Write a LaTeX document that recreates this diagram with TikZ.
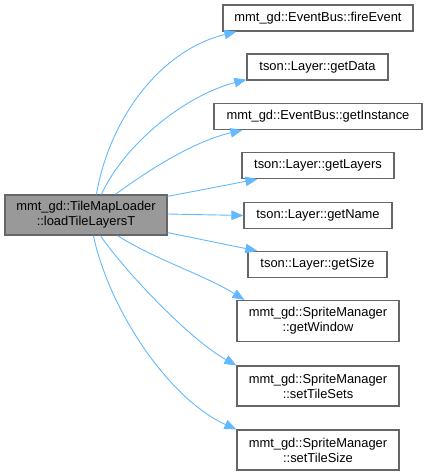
\documentclass[tikz,border=0pt]{standalone}
\usepackage{fontspec}
\setmainfont{Liberation Sans}
\usetikzlibrary{arrows.meta,calc}
\definecolor{edgeblue}{HTML}{63B8FF}
\definecolor{boxborder}{HTML}{666666}
\definecolor{mainfill}{HTML}{999999}
\begin{document}
\begin{tikzpicture}[x=1pt,y=-1pt,
  fnbox/.style={draw=boxborder,line width=1.2pt,fill=white,rectangle,inner sep=0pt,
    align=center,font=\fontsize{12.9}{15}\selectfont,text=black},
  mainbox/.style={fnbox,fill=mainfill},
  call/.style={draw=edgeblue,line width=0.9pt,-{Triangle[length=12pt,width=9.5pt]}}]
\useasboundingbox (0,0) rectangle (427,475);
\node[mainbox,minimum width=162pt,minimum height=40pt] (main) at (86,215) {mmt\_gd::TileMapLoader\\::loadTileLayersT};
\node[fnbox,minimum width=190pt,minimum height=26pt] (fire) at (318,18) {mmt\_gd::EventBus::fireEvent};
\node[fnbox,minimum width=141pt,minimum height=26pt] (data) at (317.5,67) {tson::Layer::getData};
\node[fnbox,minimum width=208pt,minimum height=26pt] (inst) at (318,116.5) {mmt\_gd::EventBus::getInstance};
\node[fnbox,minimum width=152pt,minimum height=26pt] (layers) at (318,165.5) {tson::Layer::getLayers};
\node[fnbox,minimum width=148pt,minimum height=26pt] (name) at (318,215.5) {tson::Layer::getName};
\node[fnbox,minimum width=139pt,minimum height=26pt] (size) at (317.5,264.5) {tson::Layer::getSize};
\node[fnbox,minimum width=162pt,minimum height=41pt] (win) at (318,321) {mmt\_gd::SpriteManager\\::getWindow};
\node[fnbox,minimum width=162pt,minimum height=40pt] (sets) at (318,386) {mmt\_gd::SpriteManager\\::setTileSets};
\node[fnbox,minimum width=162pt,minimum height=40pt] (tsize) at (318,450) {mmt\_gd::SpriteManager\\::setTileSize};
% edges
\draw[call] ($(main.north west)+(92,0)$) .. controls +(13,-75) and +(-77,19) .. ($(fire.south west)+(14,0)$);
\draw[call] ($(main.north west)+(97,0)$) .. controls +(23,-50) and +(-62,16) .. ($(data.south west)+(0,-1)$);
\draw[call] ($(main.north west)+(111,0)$) .. controls +(34,-25) and +(-48,11) .. ($(inst.south west)+(29,0)$);
\draw[call] ($(main.north east)+(0,2)$) -- ($(layers.south west)+(16,0)$);
\draw[call] ($(main.east)+(0,-1)$) -- (name.west);
\draw[call] ($(main.south east)+(0,-3)$) -- ($(size.north west)+(10,0)$);
\draw[call] ($(main.south west)+(113,0)$) .. controls +(40,25) and +(-40,-25) .. ($(win.north west)+(8,0)$);
\draw[call] ($(main.south west)+(96,0)$) .. controls +(24,35) and +(-47,-26) .. ($(sets.north west)+(0,0)$);
\draw[call] ($(main.south west)+(89,0)$) .. controls +(16,75) and +(-67,-30) .. ($(tsize.north west)+(0,0)$);
\end{tikzpicture}
\end{document}
